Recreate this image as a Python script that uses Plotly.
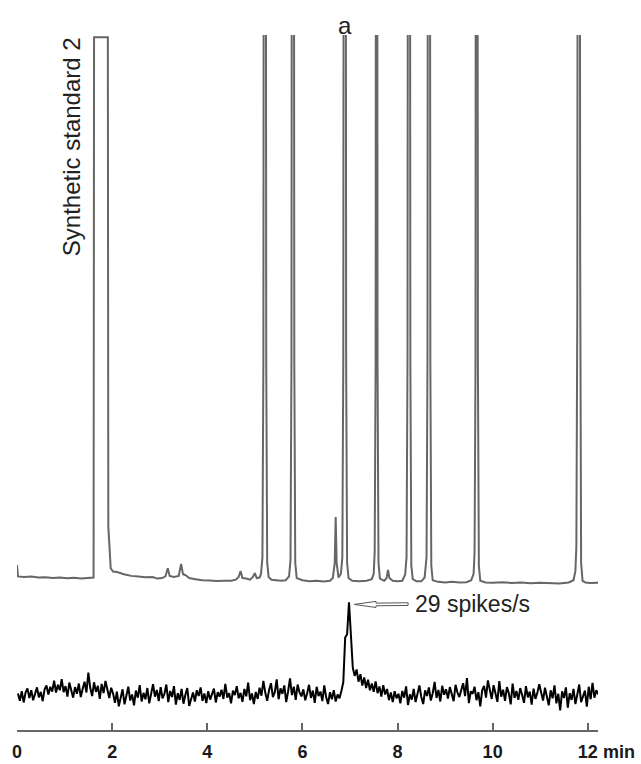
import numpy as np
import plotly.graph_objects as go

# --- GC-FID chromatogram (upper trace); detector response in % of full scale ---
gc_time = [
    0.00, 0.02, 0.15, 0.30, 0.45, 0.60, 0.75, 0.90, 1.05, 1.20, 1.35, 1.50, 1.58, 1.61,
    1.62, 1.91, 1.92, 1.97, 2.02, 2.10, 2.25, 2.40, 2.55, 2.70, 2.85, 2.95, 3.05, 3.12,
    3.17, 3.21, 3.30, 3.40, 3.45, 3.49, 3.55, 3.62, 3.75, 3.90, 4.05, 4.20, 4.35, 4.50,
    4.60, 4.66, 4.70, 4.74, 4.82, 4.90, 4.96, 5.00, 5.04, 5.10, 5.13,
    5.16, 5.18, 5.21, 5.24, 5.26, 5.29, 5.35, 5.45, 5.55, 5.65, 5.72,
    5.75, 5.77, 5.80, 5.83, 5.85, 5.88, 6.00, 6.15, 6.30, 6.45, 6.58, 6.64, 6.68, 6.70,
    6.72, 6.76, 6.81,
    6.84, 6.86, 6.89, 6.92, 6.94, 6.97, 7.05, 7.20, 7.35, 7.46, 7.50,
    7.52, 7.54, 7.56, 7.58, 7.60, 7.63, 7.72, 7.77, 7.80, 7.83, 7.90, 8.00, 8.10, 8.16,
    8.19, 8.21, 8.24, 8.27, 8.29, 8.32, 8.40, 8.50, 8.57,
    8.61, 8.63, 8.66, 8.69, 8.71, 8.74, 8.85, 9.00, 9.15, 9.30, 9.45, 9.55, 9.60,
    9.62, 9.64, 9.66, 9.69, 9.71, 9.74, 9.85, 10.00, 10.20, 10.40, 10.60, 10.80, 11.00,
    11.20, 11.40, 11.60, 11.70, 11.74,
    11.76, 11.78, 11.81, 11.84, 11.86, 11.89, 11.95, 12.05, 12.15, 12.22,
]
gc_signal = [
    2.6, 0.5, 0.4, 0.5, 0.3, 0.35, 0.2, 0.3, 0.15, 0.25, 0.1, 0.2, 0.3, 0.3,
    99.6, 99.6, 9.7, 2.0, 1.4, 1.3, 0.9, 0.6, 0.5, 0.35, 0.4, 0.1, 0.2, 0.5,
    2.0, 0.6, 0.4, 0.6, 2.8, 0.9, 0.7, 0.2, 0.0, -0.2, -0.25, -0.35, -0.3, -0.3,
    -0.1, 0.4, 1.5, 0.2, 0.1, -0.1, 0.4, 1.1, 0.2, 0.3, 1.0,
    4.0, 40.0, 400.0, 40.0, 3.0, 0.4, -0.1, -0.2, -0.3, -0.2, 0.5,
    3.5, 40.0, 400.0, 40.0, 3.0, 0.2, -0.2, -0.4, -0.3, -0.45, -0.3, 0.2, 3.0, 11.4,
    3.0, 0.3, 1.0,
    4.0, 40.0, 400.0, 40.0, 3.0, 0.2, -0.3, -0.4, -0.3, 0.0, 1.0,
    5.0, 40.0, 400.0, 40.0, 3.0, 0.1, -0.3, 0.2, 1.7, 0.2, -0.3, -0.4, -0.3, 0.8,
    4.0, 40.0, 400.0, 40.0, 2.5, 0.0, -0.4, -0.4, 0.3,
    4.0, 40.0, 400.0, 40.0, 2.5, -0.2, -0.5, -0.6, -0.5, -0.6, -0.55, -0.2, 1.0,
    5.0, 40.0, 400.0, 40.0, 2.5, -0.3, -0.6, -0.65, -0.55, -0.7, -0.6, -0.75, -0.65,
    -0.7, -0.8, -0.6, -0.2, 1.5,
    6.0, 50.0, 400.0, 60.0, 3.0, -0.3, -0.6, -0.7, -0.6, -0.65,
]

# --- EAD response (lower trace), spikes/s, sampled every 0.04 min from 0.02 min ---
ead_start = 0.02
ead_step = 0.04
ead_signal = [
    0.5, -1.8, 1.2, -2.3, 0.8, 2.1, -0.9, 1.5, -1.6, 0.3, 2.4, -0.7, 1.0, -1.9, 1.8, 3.0, 0.2, 2.6, 1.1, 4.5, 0.8, 3.2, 1.5, 5.0, 0.9,
    2.8, -0.5, 3.9, 1.2, -0.8, 2.5, 0.4, 3.6, -0.6, 1.9, 4.2, 0.8, 7.0, 2.2, -0.3, 4.0, 1.0, 2.9, -1.2, 3.5, 0.6, 4.4, 1.7, -0.9, 2.3,
    0.5, -2.4, 1.1, -3.5, -0.6, 1.8, -2.9, -0.4, 2.6, -1.7, 0.2, -3.2, 1.4, -0.8, 3.1, -2.0, 0.7, -1.3, 2.2, -2.6, 0.9, 3.4, -0.5, 1.6, -1.9,
    2.5, -1.0, 0.4, 3.3, -2.2, 1.3, -0.6, 2.8, -3.0, 0.6, -1.5, 1.9, -2.7, 0.1, 2.2, -3.4, -1.1, 0.8, -2.0, 1.5, -0.3, 2.4, -1.8, 0.5, -2.5,
    1.2, -1.4, 0.3, 2.0, -2.3, 0.9, -0.5, 1.7, -1.2, 3.5, -0.8, 0.6, -2.6, 1.4, 0.0, 2.8, -1.0, 0.7, -2.1, 1.9, -0.4, 3.9, -1.6, 0.5, -2.8,
    1.0, -1.2, 2.3, -0.2, 4.4, 0.7, -1.8, 1.6, 3.7, -0.6, 0.9, 4.9, -1.3, 2.1, 0.4, 3.0, -2.2, 1.2, 5.2, 0.0, 2.6, -1.5, 3.3, 0.8, -0.4,
    1.8, -1.6, 0.6, 3.2, -0.9, 1.4, -2.4, 2.6, -0.3, 1.1, -1.9, 3.0, -0.7, -2.8, 0.9, -1.3, 1.5, -2.0, 0.2, -1.0, 1.3, 4.0, 18.0, 19.0, 29.0,
    17.5, 8.5, 6.0, 8.0, 4.2, 6.5, 3.0, 5.5, 2.2, 4.8, 1.5, 3.6, 1.0, 4.3, 0.6, 2.7, -0.5, 3.1, 0.2, 1.9, -1.6, 0.8, -2.2, 1.2, -1.0,
    0.4, -2.6, 1.3, -0.8, 2.7, -3.1, 0.2, -1.4, 1.9, -2.2, 0.9, 3.0, -0.6, -2.8, 1.5, -0.3, 2.4, -1.7, 0.6, 4.1, -0.9, 1.6, -2.0, 2.9, 0.1,
    1.8, -1.1, 2.5, 0.3, -1.9, 3.2, 0.8, -0.6, 2.0, 3.7, -0.3, 5.3, -2.5, 1.2, 0.4, 2.6, -1.6, 0.9, -3.5, 1.5, 2.9, -0.8, 4.6, 1.0, -1.2,
    3.1, 0.2, -2.1, 4.4, -0.5, 1.7, -1.8, 2.5, 0.6, -2.9, 3.6, -0.9, 1.3, -1.5, 2.2, 0.0, -2.4, 2.8, -0.7, 1.1, -3.0, 2.0, -1.2, 0.7, 3.4,
    0.8, -1.7, 2.3, -0.4, -3.2, 1.5, -1.0, 3.0, -2.6, 0.4, -4.8, 1.2, -0.9, 2.4, -3.9, 0.6, -1.5, 1.9, -2.8, 0.2, 3.3, -2.2, -0.5, 1.4, -3.6,
    2.6, -1.3, 3.8, -0.8, 1.5, 0.2,
]
ead_time = np.round(ead_start + ead_step * np.arange(len(ead_signal)), 3)

tick_values = [2, 4, 6, 8, 10, 12]
tick_labels = ["2", "4", "6", "8", "10", "12"]
active_peak_time = 6.89          # GC peak labelled "a"
response_label = "29 spikes/s"
sample_label = "Synthetic standard 2"

FONT = "Liberation Sans, Arial, sans-serif"
GREY = "#666666"

fig = go.Figure()
fig.add_trace(go.Scatter(
    x=gc_time, y=gc_signal, mode="lines", xaxis="x", yaxis="y",
    line=dict(color=GREY, width=2), hoverinfo="skip",
))
fig.add_trace(go.Scatter(
    x=ead_time, y=ead_signal, mode="lines", xaxis="x", yaxis="y2",
    line=dict(color="#000000", width=2), hoverinfo="skip",
))

# hollow arrow pointing at the EAD maximum
i_max = int(np.argmax(ead_signal))
tip_x = float(ead_time[i_max]) + 0.107
tip_y = ead_signal[i_max] - 0.7
head_len, shaft_len = 0.46, 1.135
head_half, shaft_half = 0.95, 0.42
hx = tip_x + head_len
tx = tip_x + shaft_len
arrow_path = (
    f"M {tip_x},{tip_y} L {hx},{tip_y + head_half} L {hx},{tip_y + shaft_half} "
    f"L {tx},{tip_y + shaft_half + 0.1} L {tx},{tip_y - shaft_half + 0.1} "
    f"L {hx},{tip_y - shaft_half} L {hx},{tip_y - head_half} Z"
)
fig.add_shape(type="path", path=arrow_path, xref="x", yref="y2",
              line=dict(color="#555555", width=1), fillcolor="white", layer="above")

fig.add_annotation(x=tx + 0.1, y=tip_y, xref="x", yref="y2", text=response_label,
                   showarrow=False, xanchor="left", yanchor="middle",
                   font=dict(family=FONT, size=23, color="#222222"))

fig.add_annotation(x=active_peak_time, y=1.0, xref="x", yref="paper", text="a",
                   showarrow=False, xanchor="center", yanchor="bottom", yshift=-6,
                   font=dict(family=FONT, size=24, color="#222222"))

fig.add_annotation(x=0.0929, y=0.84, xref="paper", yref="paper", text=sample_label,
                   textangle=-90, showarrow=False, xanchor="center", yanchor="middle",
                   font=dict(family=FONT, size=24, color="#222222"))

tick_font = dict(family=FONT, size=18, color="#1a1a1a", weight="bold")
fig.add_annotation(x=0, y=-0.0317, xref="x", yref="paper", text="0", showarrow=False,
                   xanchor="center", yanchor="middle", font=tick_font)
fig.add_annotation(x=12, y=-0.0317, xref="x", yref="paper", text="min", showarrow=False,
                   xanchor="left", yanchor="middle", xshift=13, font=tick_font)

fig.update_layout(
    width=641, height=764,
    margin=dict(l=17, r=43, t=35, b=34, autoexpand=False),
    paper_bgcolor="white", plot_bgcolor="white",
    showlegend=False,
    xaxis=dict(
        range=[0, 12.215], anchor="y2", automargin=False,
        showline=True, linecolor=GREY, linewidth=2,
        ticks="inside", ticklen=7, tickwidth=2, tickcolor=GREY,
        tickmode="array", tickvals=tick_values, ticktext=tick_labels,
        tickfont=tick_font, ticklabelstandoff=4, showgrid=False, zeroline=False,
    ),
    yaxis=dict(domain=[0.2014, 1.0], range=[-2.0, 100.0], visible=False),
    yaxis2=dict(domain=[0.0, 0.2014], range=[-10.9, 32.8], visible=False),
)

fig.write_html("out.html")
